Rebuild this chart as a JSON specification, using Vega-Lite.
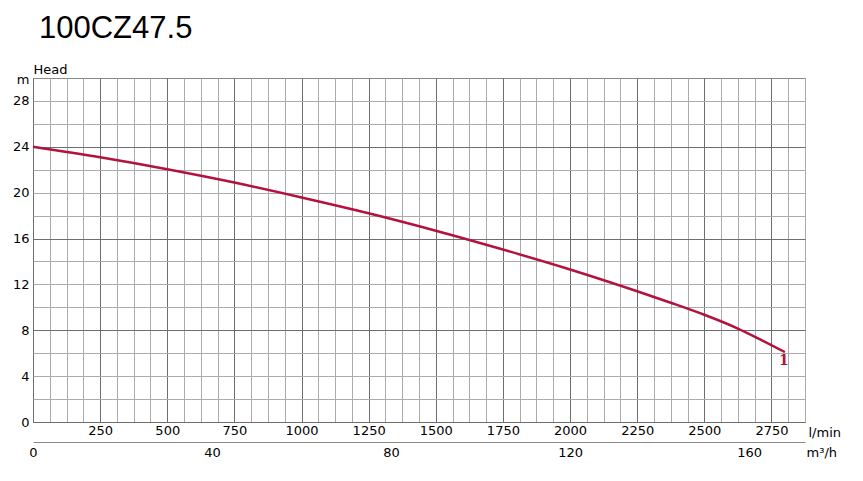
{
  "$schema": "https://vega.github.io/schema/vega-lite/v6.json",
  "width": 772,
  "height": 344,
  "autosize": "none",
  "padding": {"left": 33, "top": 78, "right": 58, "bottom": 59},
  "background": "white",
  "title": {
    "text": "100CZ47.5",
    "anchor": "start",
    "frame": "group",
    "font": "Liberation Sans",
    "fontSize": 31,
    "fontWeight": "normal",
    "color": "#000000",
    "offset": 18,
    "dx": 6
  },
  "config": {
    "view": {"stroke": "#8a8a8a", "strokeWidth": 1},
    "axis": {
      "labelFont": "DejaVu Sans",
      "titleFont": "DejaVu Sans",
      "labelFontSize": 13,
      "titleFontSize": 13,
      "labelColor": "#000000",
      "titleColor": "#000000",
      "titleFontWeight": "normal",
      "ticks": false,
      "labelOverlap": false,
      "labelFlush": false,
      "labelBound": false
    }
  },
  "layer": [
    {
      "data": {
        "values": [
          {"flow": 0, "head": 24.0},
          {"flow": 250, "head": 23.08},
          {"flow": 500, "head": 22.04},
          {"flow": 750, "head": 20.88},
          {"flow": 1000, "head": 19.58},
          {"flow": 1250, "head": 18.2},
          {"flow": 1500, "head": 16.68},
          {"flow": 1750, "head": 15.04},
          {"flow": 2000, "head": 13.3},
          {"flow": 2250, "head": 11.4},
          {"flow": 2375, "head": 10.4},
          {"flow": 2500, "head": 9.35},
          {"flow": 2625, "head": 8.15},
          {"flow": 2700, "head": 7.3},
          {"flow": 2800, "head": 6.1}
        ]
      },
      "mark": {"type": "line", "color": "#b3123e", "strokeWidth": 2.5, "interpolate": "monotone"},
      "encoding": {
        "x": {
          "field": "flow",
          "type": "quantitative",
          "scale": {"domain": [0, 2875], "nice": false, "zero": false},
          "axis": {
            "orient": "bottom",
            "domain": false,
            "labelOverlap": false,
            "values": [0,62.5,125,187.5,250,312.5,375,437.5,500,562.5,625,687.5,750,812.5,875,937.5,1000,1062.5,1125,1187.5,1250,1312.5,1375,1437.5,1500,1562.5,1625,1687.5,1750,1812.5,1875,1937.5,2000,2062.5,2125,2187.5,2250,2312.5,2375,2437.5,2500,2562.5,2625,2687.5,2750,2812.5,2875],
            "format": "d",
            "labelExpr": "(datum.value % 250 === 0 && datum.value > 0 && datum.value < 2875) ? datum.label : ''",
            "labelPadding": 2,
            "grid": true,
            "gridColor": {"condition": {"test": "datum.value % 250 === 0", "value": "#6e6e6e"}, "value": "#ababab"},
            "gridWidth": 1,
            "title": "l/min",
            "titleAnchor": "start",
            "titleAlign": "left",
            "titleBaseline": "middle",
            "titleX": 775,
            "titleY": 10
          }
        },
        "y": {
          "field": "head",
          "type": "quantitative",
          "scale": {"domain": [0, 30], "nice": false},
          "axis": {
            "domain": false,
            "labelOverlap": false,
            "values": [0,2,4,6,8,10,12,14,16,18,20,22,24,26,28],
            "labelExpr": "datum.value % 4 === 0 ? datum.label : ''",
            "labelPadding": 4,
            "grid": true,
            "gridColor": {"condition": {"test": "datum.value % 8 === 0", "value": "#6e6e6e"}, "value": "#ababab"},
            "gridWidth": 1,
            "title": "m",
            "titleAngle": 0,
            "titleAlign": "right",
            "titleBaseline": "middle",
            "titleX": -4,
            "titleY": 1
          }
        }
      }
    },
    {
      "data": {
        "values": [
          {"m3h": 0, "head": 24.0},
          {"m3h": 168, "head": 6.1}
        ]
      },
      "mark": {"type": "point", "opacity": 0},
      "encoding": {
        "x": {
          "field": "m3h",
          "type": "quantitative",
          "scale": {"domain": [0, 172.5], "nice": false, "zero": false},
          "axis": {
            "orient": "bottom",
            "offset": 20,
            "domain": true,
            "domainColor": "#8a8a8a",
            "domainWidth": 1,
            "grid": false,
            "labelOverlap": false,
            "values": [0, 40, 80, 120, 160],
            "labelPadding": 4,
            "title": "m³/h",
            "titleAnchor": "start",
            "titleAlign": "left",
            "titleBaseline": "middle",
            "titleX": 773,
            "titleY": 10
          }
        },
        "y": {
          "field": "head",
          "type": "quantitative",
          "scale": {"domain": [0, 30], "nice": false},
          "axis": {
            "orient": "left",
            "domain": false,
            "labels": false,
            "grid": false,
            "ticks": false,
            "title": "Head",
            "titleAngle": 0,
            "titleAlign": "left",
            "titleBaseline": "bottom",
            "titleX": 0,
            "titleY": -2
          }
        }
      }
    },
    {
      "data": {"values": [{"flow": 2800, "head": 6.1, "label": "1"}]},
      "mark": {"type": "text", "color": "#b3123e", "font": "DejaVu Serif", "fontSize": 14, "fontWeight": "bold", "dy": 9, "dx": -1},
      "encoding": {
        "x": {"field": "flow", "type": "quantitative", "scale": {"domain": [0, 2875], "nice": false, "zero": false}, "axis": null},
        "y": {"field": "head", "type": "quantitative", "scale": {"domain": [0, 30], "nice": false}, "axis": null},
        "text": {"field": "label"}
      }
    }
  ],
  "resolve": {"scale": {"x": "independent"}, "axis": {"x": "independent", "y": "independent"}}
}
